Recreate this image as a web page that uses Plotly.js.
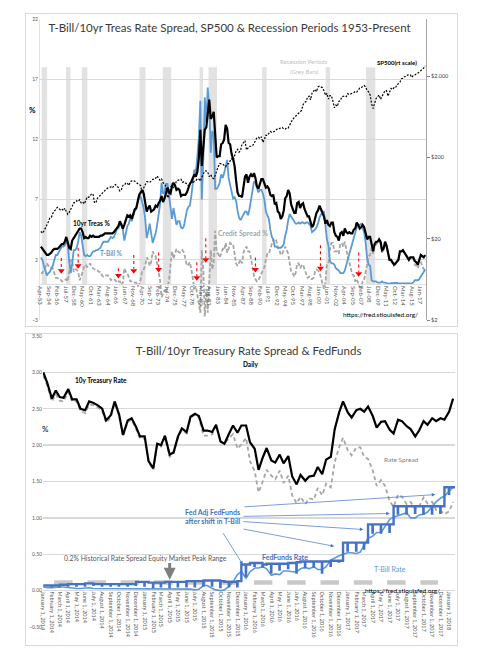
<!DOCTYPE html>
<html><head><meta charset="utf-8">
<script src="https://cdn.plot.ly/plotly-3.0.1.min.js"></script>
<style>
html,body{margin:0;padding:0;background:#fff;width:477px;height:664px;overflow:hidden;}
#top{position:absolute;left:0;top:0;width:477px;height:330px;}
#bottom{position:absolute;left:0;top:330px;width:477px;height:334px;}
.frame{position:absolute;border:1px solid #d9d9d9;pointer-events:none;}
</style></head><body>
<div id="top"></div><div id="bottom"></div>
<div class="frame" style="left:25px;top:13px;width:431px;height:312px"></div>
<div class="frame" style="left:25px;top:333px;width:431px;height:311px"></div>
<script>
// ================= TOP CHART DATA (quarterly, 1953 Q2 - 2017 Q4) =================
const tenYearRate = [
 3.1,2.9,2.7,
 2.5,2.4,2.4,2.5, 2.6,2.8,2.9,2.9, 2.9,3.0,3.2,3.3, 3.3,3.5,3.9,3.5, 3.0,2.9,3.6,3.8,
 4.0,4.2,4.5,4.6, 4.6,4.3,3.8,3.9, 3.8,3.8,4.0,3.9, 4.0,3.9,3.9,3.9, 3.9,4.0,4.0,4.1,
 4.2,4.2,4.2,4.2, 4.2,4.2,4.3,4.5, 4.7,4.8,5.2,4.9, 4.6,4.9,5.3,5.7, 5.6,5.7,5.4,5.8,
 6.2,6.3,6.8,7.4, 7.6,7.8,7.5,6.9, 6.0,6.3,6.5,6.0, 6.1,6.2,6.5,6.4, 6.7,6.9,7.3,6.8,
 7.1,7.6,8.0,7.6, 7.5,8.1,8.4,8.2, 7.8,7.9,7.8,7.3, 7.4,7.4,7.4,7.6, 8.0,8.3,8.5,8.9,
 9.1,8.9,9.3,10.4, 12.8,9.8,11.5,12.8, 13.0,13.9,15.3,13.7, 13.9,14.3,12.3,10.5, 10.6,10.6,11.6,11.7,
 12.0,13.2,12.9,11.7, 11.6,10.8,10.4,9.8, 8.6,7.6,7.3,7.3, 7.2,8.3,8.9,9.1, 8.4,8.9,9.1,8.9,
 9.2,8.8,8.1,7.9, 8.4,8.7,8.7,8.4, 8.0,8.1,7.9,7.4, 7.3,7.4,6.6,6.7, 6.0,5.9,5.4,5.6,
 6.1,7.1,7.3,7.8, 7.5,6.6,6.3,5.9, 5.9,6.7,6.8,6.3, 6.6,6.7,6.2,5.9, 5.6,5.6,5.2,4.7,
 4.9,5.5,5.9,6.1, 6.5,6.2,5.9,5.6, 5.0,5.3,4.9,4.8, 5.1,5.1,4.3,4.0, 3.9,3.6,4.2,4.3,
 4.0,4.6,4.3,4.2, 4.3,4.2,4.2,4.5, 4.6,5.1,4.9,4.6, 4.7,4.9,4.7,4.3, 3.7,3.9,3.9,3.3,
 2.7,3.3,3.5,3.5, 3.7,3.5,2.8,2.9, 3.5,3.2,2.4,2.0, 2.0,1.8,1.6,1.7, 1.9,2.0,2.7,2.7,
 2.8,2.6,2.5,2.3, 2.0,2.2,2.2,2.2, 1.9,1.8,1.6,2.1, 2.4,2.3,2.2,2.4
];
const tBillRate = [
 2.2,2.0,1.5,
 1.0,0.7,0.9,1.0, 1.3,1.5,2.0,2.4, 2.4,2.6,2.8,3.1, 3.1,3.2,3.5,3.3, 1.8,0.9,1.7,2.8,
 2.8,3.0,3.5,4.3, 4.0,3.3,2.4,2.3, 2.4,2.3,2.3,2.5, 2.7,2.7,2.8,2.8, 2.9,3.0,3.3,3.5,
 3.5,3.5,3.5,3.7, 3.9,3.8,3.9,4.2, 4.6,4.6,5.0,5.0, 4.5,3.6,4.3,4.8, 5.0,5.5,5.2,5.6,
 6.1,6.2,7.0,7.4, 7.2,6.7,6.3,5.4, 3.8,4.3,5.0,4.2, 3.4,3.8,4.2,4.9, 5.6,6.6,8.4,7.5,
 7.6,8.3,8.3,7.3, 5.9,5.4,6.3,5.6, 4.9,5.2,5.2,4.7, 4.6,4.8,5.5,6.1, 6.4,6.5,7.3,8.6,
 9.5,9.1,10.3,12.1, 15.2,7.0,10.3,15.5, 13.4,16.3,14.7,10.9, 12.7,12.5,7.9,7.9, 8.1,8.4,9.1,8.8,
 9.2,9.8,10.3,8.8, 8.2,7.5,7.1,7.2, 6.9,6.1,5.5,5.3, 5.5,5.7,6.0,6.0, 5.7,6.2,7.0,7.7,
 8.5,8.4,7.9,7.6, 7.8,7.8,7.5,7.0, 6.0,5.6,5.4,4.5, 3.9,3.7,3.1,3.1, 3.0,3.0,3.0,3.1,
 3.3,4.0,4.5,5.3, 5.8,5.6,5.4,5.3, 5.0,5.0,5.1,5.0, 5.1,5.1,5.0,5.1, 5.1,5.0,4.8,4.3,
 4.4,4.5,4.7,5.0, 5.5,5.7,6.0,6.0, 4.8,3.7,3.2,1.9, 1.7,1.7,1.6,1.3, 1.2,1.1,0.9,0.9,
 0.9,1.1,1.5,2.0, 2.5,2.9,3.4,3.8, 4.4,4.7,4.9,4.9, 5.0,4.7,4.3,3.4, 2.1,1.6,1.5,0.3,
 0.2,0.2,0.2,0.1, 0.1,0.1,0.2,0.1, 0.1,0.05,0.02,0.01, 0.07,0.09,0.1,0.09, 0.09,0.05,0.03,0.06,
 0.05,0.03,0.03,0.03, 0.03,0.02,0.04,0.12, 0.3,0.3,0.3,0.4, 0.6,0.9,1.0,1.2
];
const rateSpread = [
 0.9,0.9,1.2,
 1.5,1.7,1.5,1.5, 1.3,1.3,0.9,0.5, 0.5,0.4,0.4,0.2, 0.2,0.3,0.4,0.2, 1.2,2.0,1.9,1.0,
 1.2,1.2,1.0,0.3, 0.6,1.0,1.4,1.6, 1.4,1.5,1.7,1.4, 1.3,1.2,1.1,1.1, 1.0,1.0,0.7,0.6,
 0.7,0.7,0.7,0.5, 0.3,0.4,0.4,0.3, 0.1,0.2,0.2,-0.1, 0.1,1.3,1.0,0.9, 0.6,0.2,0.2,0.2,
 0.1,0.1,-0.2,0.0, 0.4,1.1,1.2,1.5, 2.2,2.0,1.5,1.8, 2.7,2.4,2.3,1.5, 1.1,0.3,-1.1,-0.7,
 -0.5,-0.7,-0.3,0.3, 1.6,2.7,2.1,2.6, 2.9,2.7,2.6,2.6, 2.8,2.6,1.9,1.5, 1.6,1.8,1.2,0.3,
 -0.4,-0.2,-1.0,-1.7, -2.4,2.8,1.2,-2.7, -0.4,-2.4,0.6,2.8, 1.2,1.8,4.4,2.6, 2.5,2.2,2.5,2.9,
 2.8,3.4,2.6,2.9, 3.4,3.3,3.3,2.6, 1.7,1.5,1.8,2.0, 1.7,2.6,2.9,3.1, 2.7,2.7,2.1,1.2,
 0.7,0.4,0.2,0.3, 0.6,0.9,1.2,1.4, 2.0,2.5,2.5,2.9, 3.4,3.7,3.5,3.6, 3.0,2.9,2.4,2.5,
 2.8,3.1,2.8,2.5, 1.7,1.0,0.9,0.6, 0.9,1.7,1.7,1.3, 1.5,1.6,1.2,0.8, 0.5,0.6,0.4,0.4,
 0.5,1.0,1.2,1.1, 1.0,0.5,-0.1,-0.4, 0.2,1.6,1.7,2.9, 3.4,3.4,2.7,2.7, 2.7,2.5,3.3,3.4,
 3.1,3.5,2.8,2.2, 1.8,1.3,0.8,0.7, 0.2,0.4,0.0,-0.3, -0.3,0.2,0.4,0.9, 1.6,2.3,2.4,3.0,
 2.5,3.1,3.3,3.4, 3.6,3.4,2.6,2.8, 3.4,3.15,2.38,1.99, 1.93,1.71,1.5,1.61, 1.81,1.95,2.67,2.64,
 2.75,2.57,2.47,2.27, 1.97,2.18,2.16,2.08, 1.6,1.5,1.3,1.7, 1.8,1.4,1.2,1.2
];
const sp500 = [
 24.6,23.3,24.8,
 26.9,29.2,32.3,35.9, 36.6,41.0,43.7,45.5, 48.5,46.9,45.4,46.7, 44.1,47.4,42.4,39.9, 42.1,45.2,50.1,55.2,
 55.4,58.5,56.9,59.9, 55.3,56.9,53.5,58.1, 65.1,64.6,66.7,71.6, 69.6,54.8,56.3,63.1, 66.6,69.4,71.7,75.0,
 78.9,81.7,84.2,84.8, 86.8,84.1,89.9,92.4, 89.2,84.7,77.0,80.3, 90.2,90.6,96.7,96.5, 90.2,99.6,102.7,103.9,
 101.5,97.7,93.1,92.1, 89.6,72.7,84.2,92.2, 100.3,99.7,98.3,102.1, 107.2,107.1,110.6,118.1, 112.0,104.3,108.4,97.6,
 94.0,86.0,63.5,68.6, 83.4,95.2,83.9,90.2, 102.8,104.3,105.2,107.5, 98.4,100.5,96.5,95.1, 89.2,95.5,102.5,96.1,
 101.6,102.9,109.3,107.9, 102.1,114.2,125.5,135.8, 136.0,131.2,116.2,122.6, 112.0,109.6,120.4,140.6, 153.0,168.1,166.1,164.9,
 159.2,153.2,166.1,167.2, 180.7,191.9,182.1,211.3, 238.9,250.8,231.3,242.2, 291.7,304.0,321.8,247.1, 258.9,273.5,271.9,277.7,
 294.9,318.0,349.2,353.4, 339.9,358.0,306.1,330.2, 375.2,371.2,387.9,417.1, 403.7,408.1,417.8,435.7, 451.7,450.5,458.9,466.5,
 445.8,444.3,462.7,459.3, 500.7,544.8,584.4,615.9, 645.5,670.6,687.3,740.7, 757.1,885.1,947.3,970.4, 1101.8,1133.8,1017.0,1229.2,
 1286.4,1372.7,1282.7,1469.3, 1498.6,1454.6,1436.5,1320.3, 1160.3,1224.4,1040.9,1148.1, 1147.4,989.8,815.3,879.8, 848.2,974.5,996.0,1111.9,
 1126.2,1140.8,1114.6,1211.9, 1180.6,1191.3,1228.8,1248.3, 1294.8,1270.2,1335.9,1418.3, 1420.9,1503.4,1526.8,1468.4, 1322.7,1280.0,1166.4,903.3,
 797.9,919.3,1057.1,1115.1, 1169.4,1030.7,1141.2,1257.6, 1325.8,1320.6,1131.4,1257.6, 1408.5,1362.2,1440.7,1426.2, 1569.2,1606.3,1681.6,1848.4,
 1872.3,1960.2,1972.3,2058.9, 2067.9,2063.1,1920.0,2043.9, 2059.7,2098.9,2168.3,2238.8, 2362.7,2423.4,2519.4,2673.6
];
const recessionStart = ['1953-07-01','1957-08-01','1960-04-01','1969-12-01','1973-11-01','1980-01-01','1981-07-01','1990-07-01','2001-03-01','2007-12-01'];
const recessionEnd   = ['1954-05-31','1958-04-30','1961-02-28','1970-11-30','1975-03-31','1980-07-31','1982-11-30','1991-03-31','2001-11-30','2009-06-30'];
const spreadLowDates = ['1956-10-15','1959-08-15','1966-05-15','1968-12-15','1973-02-15','1979-07-15','1981-01-15','1989-05-15','2000-04-15','2006-09-15'];
const spreadArrowTop = [2.15,3.0,1.3,2.4,2.6,1.8,3.8,2.2,3.2,2.6];
const spreadArrowTip = [0.9,1.3,0.5,0.9,1.0,0.3,1.8,1.0,1.1,0.65];
const rateTickVals = [-3,2,7,12,17,22];
const sp500TickVals = [2,20,200,2000];
const sp500TickText = ['$2','$20','$200','$2,000'];

// ================= BOTTOM CHART DATA (semi-monthly, Jan 2014 - Jan 2018) =================
const tenYearDaily = [
 3.00,2.86,2.64,2.75,2.66,2.65,2.77,2.63,2.63,2.50,2.48,2.60,2.58,2.55,2.50,2.34,2.41,2.60,2.42,2.14,2.34,2.37,2.25,2.12,
 2.12,1.78,1.68,2.02,2.00,2.13,1.87,1.90,2.12,2.23,2.18,2.39,2.43,2.40,2.20,2.20,2.18,2.28,2.05,2.02,2.16,2.27,2.17,2.27,
 2.27,2.04,1.95,1.66,1.83,1.96,1.79,1.76,1.87,1.75,1.85,1.57,1.46,1.59,1.51,1.57,1.58,1.70,1.60,1.80,1.84,2.22,2.45,2.60,
 2.45,2.38,2.48,2.50,2.46,2.53,2.40,2.24,2.32,2.33,2.21,2.16,2.35,2.33,2.26,2.22,2.12,2.20,2.33,2.28,2.37,2.33,2.37,2.35,
 2.46,2.64
];
const spreadDaily = [
 2.95,2.82,2.60,2.70,2.61,2.60,2.73,2.60,2.60,2.47,2.44,2.56,2.55,2.52,2.47,2.31,2.38,2.58,2.40,2.12,2.32,2.35,2.22,2.09,
 2.09,1.76,1.66,2.00,1.98,2.10,1.84,1.88,2.10,2.21,2.16,2.37,2.42,2.38,2.13,2.13,2.15,2.27,2.05,2.01,2.10,2.15,1.95,2.01,
 2.10,1.78,1.64,1.35,1.50,1.66,1.58,1.53,1.65,1.48,1.58,1.31,1.20,1.29,1.19,1.27,1.25,1.41,1.31,1.47,1.42,1.77,1.97,2.10,
 1.93,1.86,1.97,1.97,1.84,1.81,1.65,1.44,1.52,1.44,1.23,1.15,1.32,1.29,1.19,1.22,1.12,1.16,1.28,1.20,1.22,1.11,1.10,1.05,
 1.09,1.22
];
const tBillDaily = [
 0.05,0.04,0.04,0.05,0.05,0.05,0.04,0.03,0.03,0.03,0.04,0.04,0.03,0.03,0.03,0.03,0.03,0.02,0.02,0.02,0.02,0.02,0.03,0.03,
 0.03,0.02,0.02,0.02,0.02,0.03,0.03,0.02,0.02,0.02,0.02,0.02,0.01,0.02,0.07,0.07,0.03,0.01,0.00,0.01,0.06,0.12,0.22,0.26,
 0.17,0.26,0.31,0.31,0.33,0.30,0.21,0.23,0.22,0.27,0.27,0.26,0.26,0.30,0.32,0.30,0.33,0.29,0.29,0.33,0.42,0.45,0.48,0.50,
 0.52,0.52,0.51,0.53,0.62,0.72,0.75,0.80,0.80,0.89,0.98,1.01,1.03,1.04,1.07,1.00,1.00,1.04,1.05,1.08,1.15,1.22,1.27,1.30,
 1.37,1.42
];
// Effective fed funds: first half of month, second half, month-end dip
const ffFirstHalf = [
 0.07,0.07,0.08,0.09,0.09,0.10,0.09,0.09,0.09,0.09,0.09,0.12,
 0.12,0.11,0.11,0.12,0.12,0.13,0.13,0.14,0.14,0.13,0.12,0.13,
 0.36,0.38,0.36,0.37,0.37,0.38,0.39,0.40,0.40,0.40,0.41,0.41,
 0.66,0.66,0.66,0.91,0.91,0.91,1.16,1.16,1.16,1.16,1.16,1.16,
 1.42
];
const ffSecondHalf = [
 0.07,0.07,0.08,0.09,0.09,0.10,0.09,0.09,0.09,0.09,0.09,0.12,
 0.11,0.11,0.12,0.12,0.12,0.13,0.13,0.14,0.14,0.12,0.12,0.36,
 0.38,0.38,0.37,0.37,0.37,0.38,0.40,0.40,0.40,0.40,0.41,0.66,
 0.66,0.66,0.91,0.91,0.91,1.16,1.16,1.16,1.16,1.16,1.16,1.42,
 1.42
];
const ffMonthEnd = [
 0.06,0.06,0.07,0.07,0.07,0.08,0.07,0.07,0.07,0.07,0.08,0.07,
 0.05,0.06,0.05,0.06,0.06,0.06,0.07,0.07,0.05,0.06,0.06,0.20,
 0.34,0.33,0.25,0.29,0.31,0.25,0.32,0.33,0.25,0.34,0.40,0.55,
 0.55,0.58,0.80,0.80,0.81,1.06,1.06,1.07,1.06,1.06,1.07,1.33,
 1.42
];
const peakRangeDates = ['2014-02-09','2017-11-22'];
const peakRangeLevel = [0.11,0.11];
const fedArrowHeadDates = ['2015-12-20','2016-11-13','2017-02-26','2017-06-01','2017-11-12'];
const fedArrowHeadVals  = [0.36,0.61,0.84,1.06,1.32];
const fedArrowTailDates = ['2015-10-07','2015-12-17','2015-12-17','2015-12-17','2015-12-21'];
const fedArrowTailVals  = [0.81,0.85,0.95,1.02,1.15];
const peakArrowDate = '2015-04-01';
const peakArrowVals = [0.40,0.15];

// ================= helpers =================
const FONT = 'Lato, "Liberation Sans", Arial, sans-serif';
function quarterDates(startYear, startQ, n){
  const mid=['02','05','08','11']; const out=[]; let y=startYear,q=startQ;
  for(let i=0;i<n;i++){ out.push(y+'-'+mid[q]+'-15'); q++; if(q===4){q=0;y++;} }
  return out;
}
function semiMonthDates(startYear, n){
  const out=[];
  for(let i=0;i<n;i++){ const k=Math.floor(i/2); const y=startYear+Math.floor(k/12); const m=String(k%12+1).padStart(2,'0');
    out.push(y+'-'+m+(i%2? '-15':'-01')); }
  return out;
}
function makeAnn(box, text, px, py, size, color, bold, extra){
  const a = {xref:'paper', yref:'paper', x:(px-box.l)/box.w, y:(box.b-py)/box.h,
    text: bold? '<b>'+text+'</b>' : text, showarrow:false,
    font:{family:FONT, size:size, color:color}, xanchor:'center', yanchor:'middle'};
  return Object.assign(a, extra||{});
}

// ================= TOP CHART =================
const qDates = quarterDates(1953, 1, tenYearRate.length);
const topBox = {l:40, w:386, b:320, h:301};
const topShapes = [];
for(let i=0;i<recessionStart.length;i++){
  topShapes.push({type:'rect', xref:'x', yref:'y', x0:recessionStart[i], x1:recessionEnd[i], y0:0, y1:18,
    fillcolor:'#e2e2e2', line:{width:0}, layer:'below'});
}
for(let i=0;i<spreadLowDates.length;i++){
  topShapes.push({type:'line', xref:'x', yref:'y', x0:spreadLowDates[i], x1:spreadLowDates[i],
    y0:spreadArrowTop[i], y1:spreadArrowTip[i]+0.35, line:{color:'#ff0000', width:1.1, dash:'dot'}});
}
const topTraces = [
  {x:qDates, y:rateSpread, mode:'lines', line:{color:'#a6a6a6', width:1.8, dash:'4px,2px'}, hoverinfo:'skip'},
  {x:qDates, y:tBillRate, mode:'lines', line:{color:'#5b9bd5', width:1.8}, hoverinfo:'skip'},
  {x:qDates, y:tenYearRate, mode:'lines', line:{color:'#000000', width:2.2}, hoverinfo:'skip'},
  {x:qDates, y:sp500, yaxis:'y2', mode:'lines', line:{color:'#000000', width:1.2, dash:'2px,1.5px'}, hoverinfo:'skip'},
  {x:spreadLowDates, y:spreadArrowTip.map(v=>v+0.2), mode:'markers',
   marker:{symbol:'triangle-down', size:6, color:'#ff0000'}, hoverinfo:'skip'}
];
const topLayout = {
  width:477, height:330, margin:{l:40, r:51, t:19, b:10},
  paper_bgcolor:'rgba(0,0,0,0)', plot_bgcolor:'rgba(0,0,0,0)', showlegend:false,
  font:{family:FONT, color:'#595959'},
  title:{text:'T-Bill/10yr Treas Rate Spread, SP500 & Recession Periods 1953-Present',
    x:229.5/477, xanchor:'center', xref:'container', y:1-28/330, yanchor:'middle', yref:'container',
    font:{family:FONT, size:11.5, color:'#3a3a3a'}},
  xaxis:{type:'date', range:['1953-03-20','2017-12-31'], anchor:'free', position:0.12,
    tick0:'1953-04-01', dtick:'M17', tickformat:'%b-%y', tickangle:90,
    tickfont:{size:6, color:'#595959'}, showgrid:false, zeroline:false, showline:true, linecolor:'#e0e0e0', ticks:''},
  yaxis:{range:[-3,22], tickvals:rateTickVals, showgrid:true, gridcolor:'#d9d9d9', gridwidth:1.3,
    zeroline:false, showline:true, linecolor:'#e3e3e3', ticks:'', tickfont:{size:5, color:'#595959'}},
  yaxis2:{overlaying:'y', side:'right', type:'log', range:[Math.log10(2), 4.002],
    tickvals:sp500TickVals, ticktext:sp500TickText, showgrid:false, zeroline:false,
    showline:true, linecolor:'#a6a6a6', ticks:'outside', ticklen:3, tickcolor:'#7f7f7f',
    tickfont:{size:5.5, color:'#404040'}},
  shapes:topShapes,
  annotations:[
    makeAnn(topBox,'%',32,110,8,'#000',true),
    makeAnn(topBox,'10yr Treas %',91,223,6.5,'#000',true),
    makeAnn(topBox,'T-Bill %',111,253,6.5,'#5b9bd5',true),
    makeAnn(topBox,'Credit Spread %',243,233,7,'#a6a6a6',true),
    makeAnn(topBox,'Recession Periods',304,61,6,'#bfbfbf',false),
    makeAnn(topBox,'(Grey Bars)',304,71,6,'#bfbfbf',false),
    makeAnn(topBox,'SP500(rt scale)',397,62,6,'#000',true),
    makeAnn(topBox,'https://fred.stlouisfed.org/',380,314,6.5,'#000',false)
  ]
};
Plotly.newPlot('top', topTraces, topLayout, {staticPlot:true, displayModeBar:false});

// ================= BOTTOM CHART =================
const sDates = semiMonthDates(2014, tenYearDaily.length);
const ffX=[], ffY=[];
for(let i=0;i<ffFirstHalf.length;i++){
  const y=2014+Math.floor(i/12), m=i%12, mm=String(m+1).padStart(2,'0');
  const last=new Date(Date.UTC(y,m+1,0)).getUTCDate();
  ffX.push(y+'-'+mm+'-01', y+'-'+mm+'-15', y+'-'+mm+'-'+last);
  ffY.push(ffFirstHalf[i], ffSecondHalf[i], ffMonthEnd[i]);
}
const botBox = {l:43, w:412, b:627, h:291};
const botTraces = [
  {x:peakRangeDates, y:peakRangeLevel, mode:'lines', line:{color:'#c9c9c9', width:4.5, dash:'18.5px,14.8px'}, hoverinfo:'skip'},
  {x:sDates, y:spreadDaily, mode:'lines', line:{color:'#a6a6a6', width:1.8, dash:'4px,3px'}, hoverinfo:'skip'},
  {x:sDates, y:tenYearDaily, mode:'lines', line:{color:'#000000', width:2.2}, hoverinfo:'skip'},
  {x:sDates, y:tBillDaily, mode:'lines', line:{color:'#5b9bd5', width:1.6}, hoverinfo:'skip'},
  {x:ffX, y:ffY, mode:'lines', line:{color:'#4472c4', width:2.4, shape:'hv'}, hoverinfo:'skip'}
];
const botAnn = [
  makeAnn(botBox,'Daily',250,364,6.5,'#000',true),
  makeAnn(botBox,'10y Treasury Rate',101,380,6.5,'#000',true),
  makeAnn(botBox,'%',45,429,8,'#000',false),
  makeAnn(botBox,'Rate Spread',401,459,6.5,'#7f7f7f',false),
  makeAnn(botBox,'Fed Adj FedFunds<br>after shift in T-Bill',183,516,7,'#4472c4',true,{xanchor:'left', align:'left'}),
  makeAnn(botBox,'0.2% Historical Rate Spread Equity Market Peak Range',145,558,6.8,'#595959',false),
  makeAnn(botBox,'FedFunds Rate',285,557,7,'#4472c4',true),
  makeAnn(botBox,'T-Bill Rate',390,569,7,'#5b9bd5',false),
  makeAnn(botBox,'https://fred.stlouisfed.org/',402,590,6.5,'#000',false)
];
for(let i=0;i<fedArrowHeadDates.length;i++){
  botAnn.push({xref:'x', yref:'y', axref:'x', ayref:'y', x:fedArrowHeadDates[i], y:fedArrowHeadVals[i],
    ax:fedArrowTailDates[i], ay:fedArrowTailVals[i], text:'', showarrow:true,
    arrowhead:2, arrowsize:1, arrowwidth:0.7, arrowcolor:'#4472c4'});
}
botAnn.push({xref:'x', yref:'y', axref:'x', ayref:'y', x:peakArrowDate, y:peakArrowVals[1],
  ax:peakArrowDate, ay:peakArrowVals[0], text:'', showarrow:true,
  arrowhead:2, arrowsize:0.8, arrowwidth:3, arrowcolor:'#7f7f7f'});
const botLayout = {
  width:477, height:334, margin:{l:43, r:22, t:6, b:37},
  paper_bgcolor:'rgba(0,0,0,0)', plot_bgcolor:'rgba(0,0,0,0)', showlegend:false,
  font:{family:FONT, color:'#595959'},
  title:{text:'T-Bill/10yr Treasury Rate Spread & FedFunds',
    x:248.5/477, xanchor:'center', xref:'container', y:1-21/334, yanchor:'middle', yref:'container',
    font:{family:FONT, size:11.5, color:'#3a3a3a'}},
  xaxis:{type:'date', range:['2013-12-31','2018-01-22'], anchor:'free', position:0.125,
    tick0:'2014-01-01', dtick:'M1', tickformat:'%B %-d, %Y', tickangle:90,
    tickfont:{size:5.5, color:'#595959'}, showgrid:false, zeroline:false, showline:false, ticks:''},
  yaxis:{range:[-0.5,3.5], tick0:0, dtick:0.5, tickformat:'.2f', showgrid:true, gridcolor:'#d9d9d9', gridwidth:1.3,
    zeroline:false, showline:false, ticks:'', tickfont:{size:5, color:'#595959'}},
  annotations:botAnn
};
Plotly.newPlot('bottom', botTraces, botLayout, {staticPlot:true, displayModeBar:false});
</script></body></html>
